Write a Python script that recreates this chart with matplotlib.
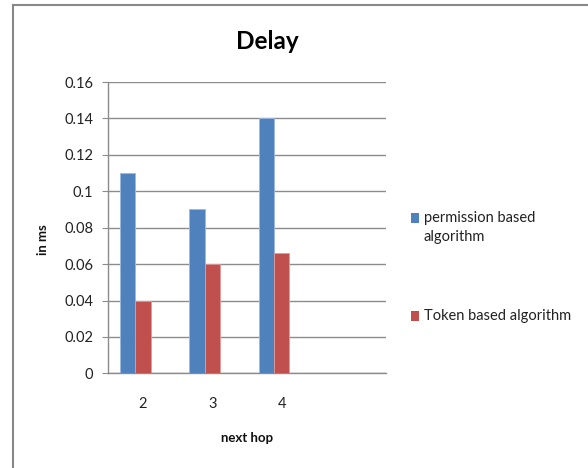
import numpy as np
import matplotlib
matplotlib.use("Agg")
import matplotlib.pyplot as plt
from matplotlib.patches import Rectangle
from matplotlib.lines import Line2D

# Data
categories = ["2", "3", "4", ""]
permission_delay = [0.11, 0.09, 0.14, np.nan]
token_delay = [0.04, 0.06, 0.066, np.nan]
series_names = ["permission based\nalgorithm", "Token based algorithm"]
series_colors = ["#4F81BD", "#C0504D"]
edge_colors = ["#9DB9E0", "#E09A98"]
y_ticks = [0, 0.02, 0.04, 0.06, 0.08, 0.1, 0.12, 0.14, 0.16]
y_tick_labels = ["0", "0.02", "0.04", "0.06", "0.08", "0.1", "0.12", "0.14", "0.16"]

plt.rcParams["font.family"] = ["Lato", "DejaVu Sans"]

fig = plt.figure(figsize=(5.88, 4.68), dpi=100)
ax = fig.add_axes([0.1842, 0.2023, 0.4718, 0.6224])

x = np.arange(len(categories))
w = 0.22
ax.bar(x - w, permission_delay, width=w, color=series_colors[0],
       edgecolor=edge_colors[0], linewidth=0.6, zorder=3)
ax.bar(x, token_delay, width=w, color=series_colors[1],
       edgecolor=edge_colors[1], linewidth=0.6, zorder=3)

ax.set_xlim(-0.5, len(categories) - 0.5)
ax.set_ylim(0, 0.16)
ax.set_yticks(y_ticks)
ax.set_yticklabels(y_tick_labels)
ax.set_xticks(x)
ax.set_xticklabels(categories)

ax.yaxis.grid(True, color="#8C8C8C", linewidth=1.0, zorder=0)
ax.set_axisbelow(True)
for s in ["top", "right"]:
    ax.spines[s].set_visible(False)
for s in ["left", "bottom"]:
    ax.spines[s].set_color("#8C8C8C")
    ax.spines[s].set_linewidth(1.0)
ax.tick_params(axis="y", length=4, color="#8C8C8C", pad=7, labelsize=10.5,
               labelcolor="#222222")
ax.tick_params(axis="x", length=0, pad=17, labelsize=10.5, labelcolor="#222222")

fig.text(0.073, 0.487, "in ms", rotation=90, ha="center", va="center",
         fontsize=9.5, fontweight="bold", color="#111111")
fig.text(0.42, 0.064, "next hop", ha="center", va="center",
         fontsize=9.5, fontweight="bold", color="#111111")
fig.text(0.455, 0.912, "Delay", ha="center", va="center",
         fontsize=17.5, fontweight="bold", color="#000000")

# Legend entries
for i, (name, color) in enumerate(zip(series_names, series_colors)):
    ypx = [218, 316][i]
    fig.add_artist(Rectangle((411 / 588, 1 - (ypx + 5) / 468), 8 / 588, 10 / 468,
                             transform=fig.transFigure, facecolor=color,
                             edgecolor="none"))
    fig.text(424 / 588, 1 - (ypx - 7) / 468, name, ha="left", va="top",
             fontsize=10.5, color="#222222", linespacing=1.45)

# Chart-area frame (top and left edges)
fig.add_artist(Line2D([13 / 588, 1.0], [1 - 4.5 / 468, 1 - 4.5 / 468],
                      transform=fig.transFigure, color="#888888", linewidth=1.5))
fig.add_artist(Line2D([13 / 588, 13 / 588], [0, 1 - 4.5 / 468],
                      transform=fig.transFigure, color="#888888", linewidth=1.5))

fig.savefig("out.png", dpi=100)
